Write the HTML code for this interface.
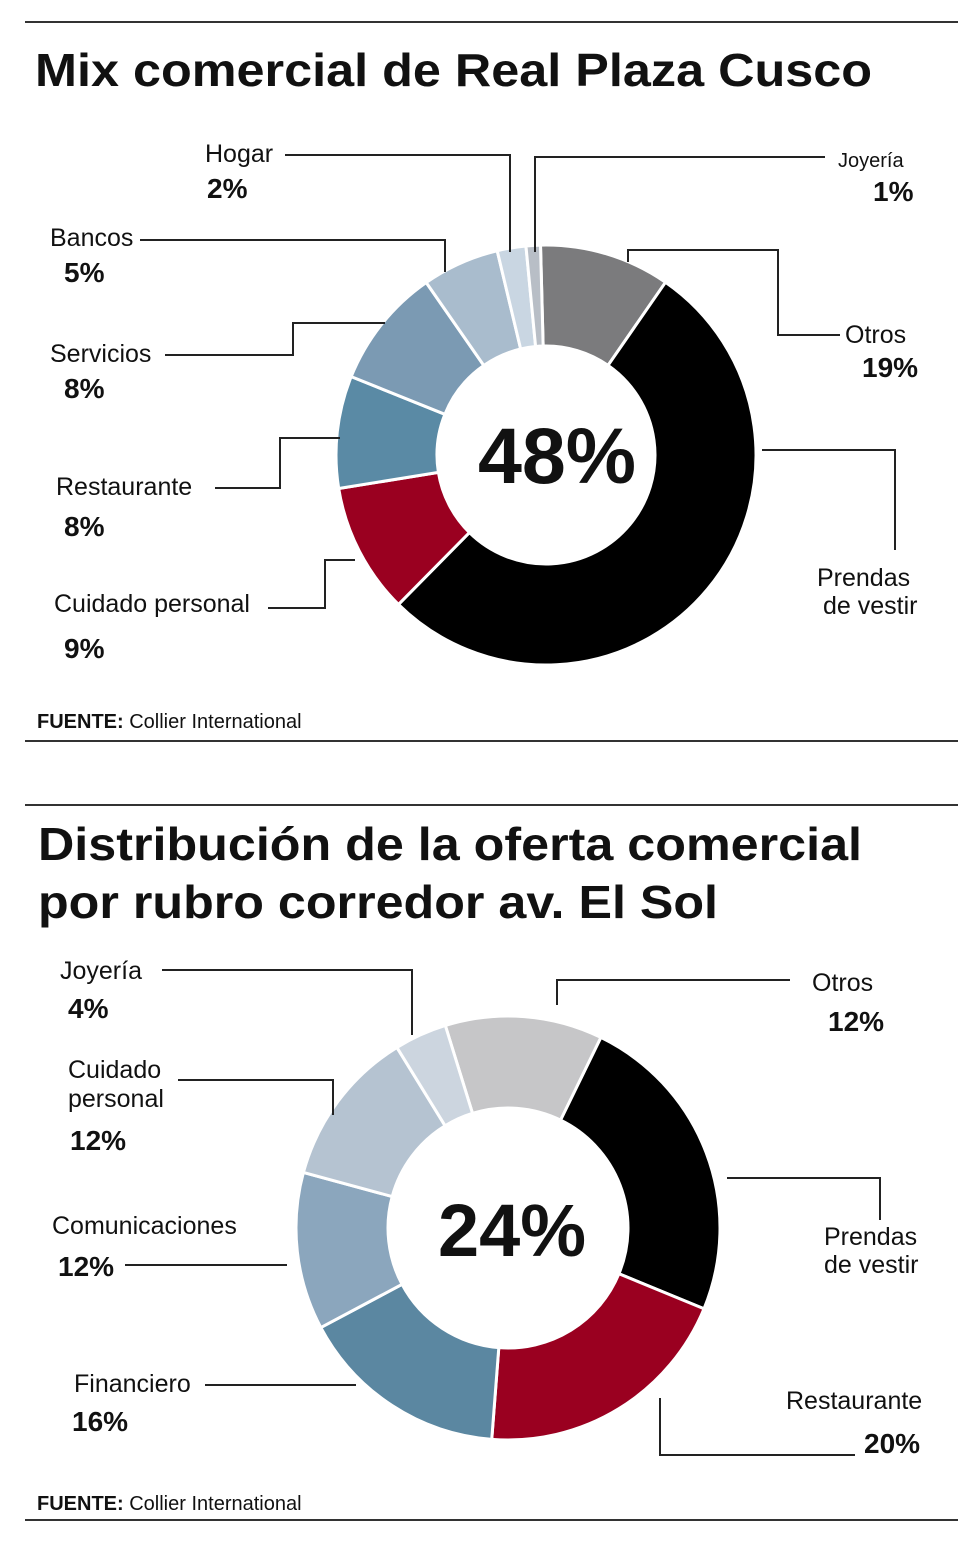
<!DOCTYPE html>
<html><head><meta charset="utf-8"><style>
body{margin:0;background:#fff}
svg text{font-family:"Liberation Sans",sans-serif;fill:#111}
.lb{font-size:25px}
.pc{font-size:28px;font-weight:bold}
.ttl{font-size:46px;font-weight:bold}
</style></head><body>
<svg id="svg" width="980" height="1542" viewBox="0 0 980 1542" xmlns="http://www.w3.org/2000/svg">
<g stroke="#333" stroke-width="2">
<line x1="25" y1="22" x2="958" y2="22"/><line x1="25" y1="741" x2="958" y2="741"/>
<line x1="25" y1="805" x2="958" y2="805"/><line x1="25" y1="1520" x2="958" y2="1520"/>
</g>
<text class="ttl" x="35" y="86" textLength="837" lengthAdjust="spacingAndGlyphs">Mix comercial de Real Plaza Cusco</text>
<text class="ttl" x="38" y="860" textLength="824" lengthAdjust="spacingAndGlyphs">Distribución de la oferta comercial</text>
<text class="ttl" x="38" y="918" textLength="680" lengthAdjust="spacingAndGlyphs">por rubro corredor av. El Sol</text>
<text x="37" y="728" style="font-size:20px"><tspan font-weight="bold">FUENTE:</tspan> Collier International</text>
<text x="37" y="1510" style="font-size:20px"><tspan font-weight="bold">FUENTE:</tspan> Collier International</text>
<g id="c1"></g>
<g id="c2"></g>
<g fill="none" stroke="#222" stroke-width="2">
<polyline points="285,155 510,155 510,252"/><polyline points="535,252 535,157 825,157"/>
<polyline points="140,240 445,240 445,272"/><polyline points="628,262 628,250 778,250 778,335 840,335"/>
<polyline points="165,355 293,355 293,323 385,323"/><polyline points="215,488 280,488 280,438 340,438"/>
<polyline points="762,450 895,450 895,550"/><polyline points="268,608 325,608 325,560 355,560"/>
<polyline points="162,970 412,970 412,1035"/><polyline points="557,1005 557,980 790,980"/>
<polyline points="178,1080 333,1080 333,1115"/><polyline points="727,1178 880,1178 880,1220"/>
<polyline points="125,1265 287,1265"/><polyline points="205,1385 356,1385"/>
<polyline points="660,1398 660,1455 855,1455"/>
</g>
<g>
<text class="lb" x="205" y="162">Hogar</text><text class="pc" x="207" y="198">2%</text>
<text class="lb" x="838" y="167" style="font-size:20px">Joyería</text><text class="pc" x="873" y="201">1%</text>
<text class="lb" x="50" y="246">Bancos</text><text class="pc" x="64" y="282">5%</text>
<text class="lb" x="845" y="343">Otros</text><text class="pc" x="862" y="377">19%</text>
<text class="lb" x="50" y="362">Servicios</text><text class="pc" x="64" y="398">8%</text>
<text class="lb" x="56" y="495">Restaurante</text><text class="pc" x="64" y="536">8%</text>
<text class="lb" x="817" y="586">Prendas</text><text class="lb" x="823" y="614">de vestir</text>
<text class="lb" x="54" y="612">Cuidado personal</text><text class="pc" x="64" y="658">9%</text>
</g>
<g>
<text class="lb" x="60" y="979">Joyería</text><text class="pc" x="68" y="1018">4%</text>
<text class="lb" x="812" y="991">Otros</text><text class="pc" x="828" y="1031">12%</text>
<text class="lb" x="68" y="1078">Cuidado</text><text class="lb" x="68" y="1107">personal</text><text class="pc" x="70" y="1150">12%</text>
<text class="lb" x="824" y="1245">Prendas</text><text class="lb" x="824" y="1273">de vestir</text>
<text class="lb" x="52" y="1234">Comunicaciones</text><text class="pc" x="58" y="1276">12%</text>
<text class="lb" x="74" y="1392">Financiero</text><text class="pc" x="72" y="1431">16%</text>
<text class="lb" x="786" y="1409">Restaurante</text><text class="pc" x="864" y="1453">20%</text>
</g>
<text x="557" y="483" text-anchor="middle" style="font-size:79px;font-weight:bold">48%</text>
<text x="512" y="1256" text-anchor="middle" style="font-size:74px;font-weight:bold">24%</text>
</svg>
<script>
// Chart 1 (slice shares as drawn in the picture, clockwise from top)
const cats1 = ["Otros","Prendas de vestir","Cuidado personal","Restaurante","Servicios","Bancos","Hogar","Joyería"];
const vals1 = [10, 52.5, 10, 8.6, 9.2, 5.9, 2.2, 1.1];
const cols1 = ["#7b7b7d","#000000","#9a0020","#5a8aa5","#7b9ab3","#a9bccd","#c9d6e2","#b8bec6"];
// Chart 2
const cats2 = ["Otros","Prendas de vestir","Restaurante","Financiero","Comunicaciones","Cuidado personal","Joyería"];
const vals2 = [12, 24, 20, 16, 12, 12, 4];
const cols2 = ["#c6c6c8","#000000","#9a0020","#5b87a1","#8ba6bd","#b5c3d1","#ccd5df"];

function donut(gid, cats, vals, cols, cx, cy, R, r, start){
  const g = document.getElementById(gid);
  const tot = vals.reduce((a,b)=>a+b,0);
  let a = start;
  const pt=(ang,rad)=>[cx+rad*Math.sin(ang*Math.PI/180), cy-rad*Math.cos(ang*Math.PI/180)];
  vals.forEach((v,i)=>{
    const sw = v/tot*360, b = a+sw, lg = sw>180?1:0;
    const p1=pt(a,R),p2=pt(b,R),p3=pt(b,r),p4=pt(a,r);
    const p=document.createElementNS("http://www.w3.org/2000/svg","path");
    p.setAttribute("d",`M${p1}A${R},${R} 0 ${lg} 1 ${p2}L${p3}A${r},${r} 0 ${lg} 0 ${p4}Z`);
    p.setAttribute("fill",cols[i]);p.setAttribute("stroke","#fff");p.setAttribute("stroke-width","3");
    
    
    g.appendChild(p);
    a = b;
  });
}
donut("c1",cats1,vals1,cols1,546,455,210,109,-1.5);
donut("c2",cats2,vals2,cols2,508,1228,212,120,342.8);
</script>
</body></html>
